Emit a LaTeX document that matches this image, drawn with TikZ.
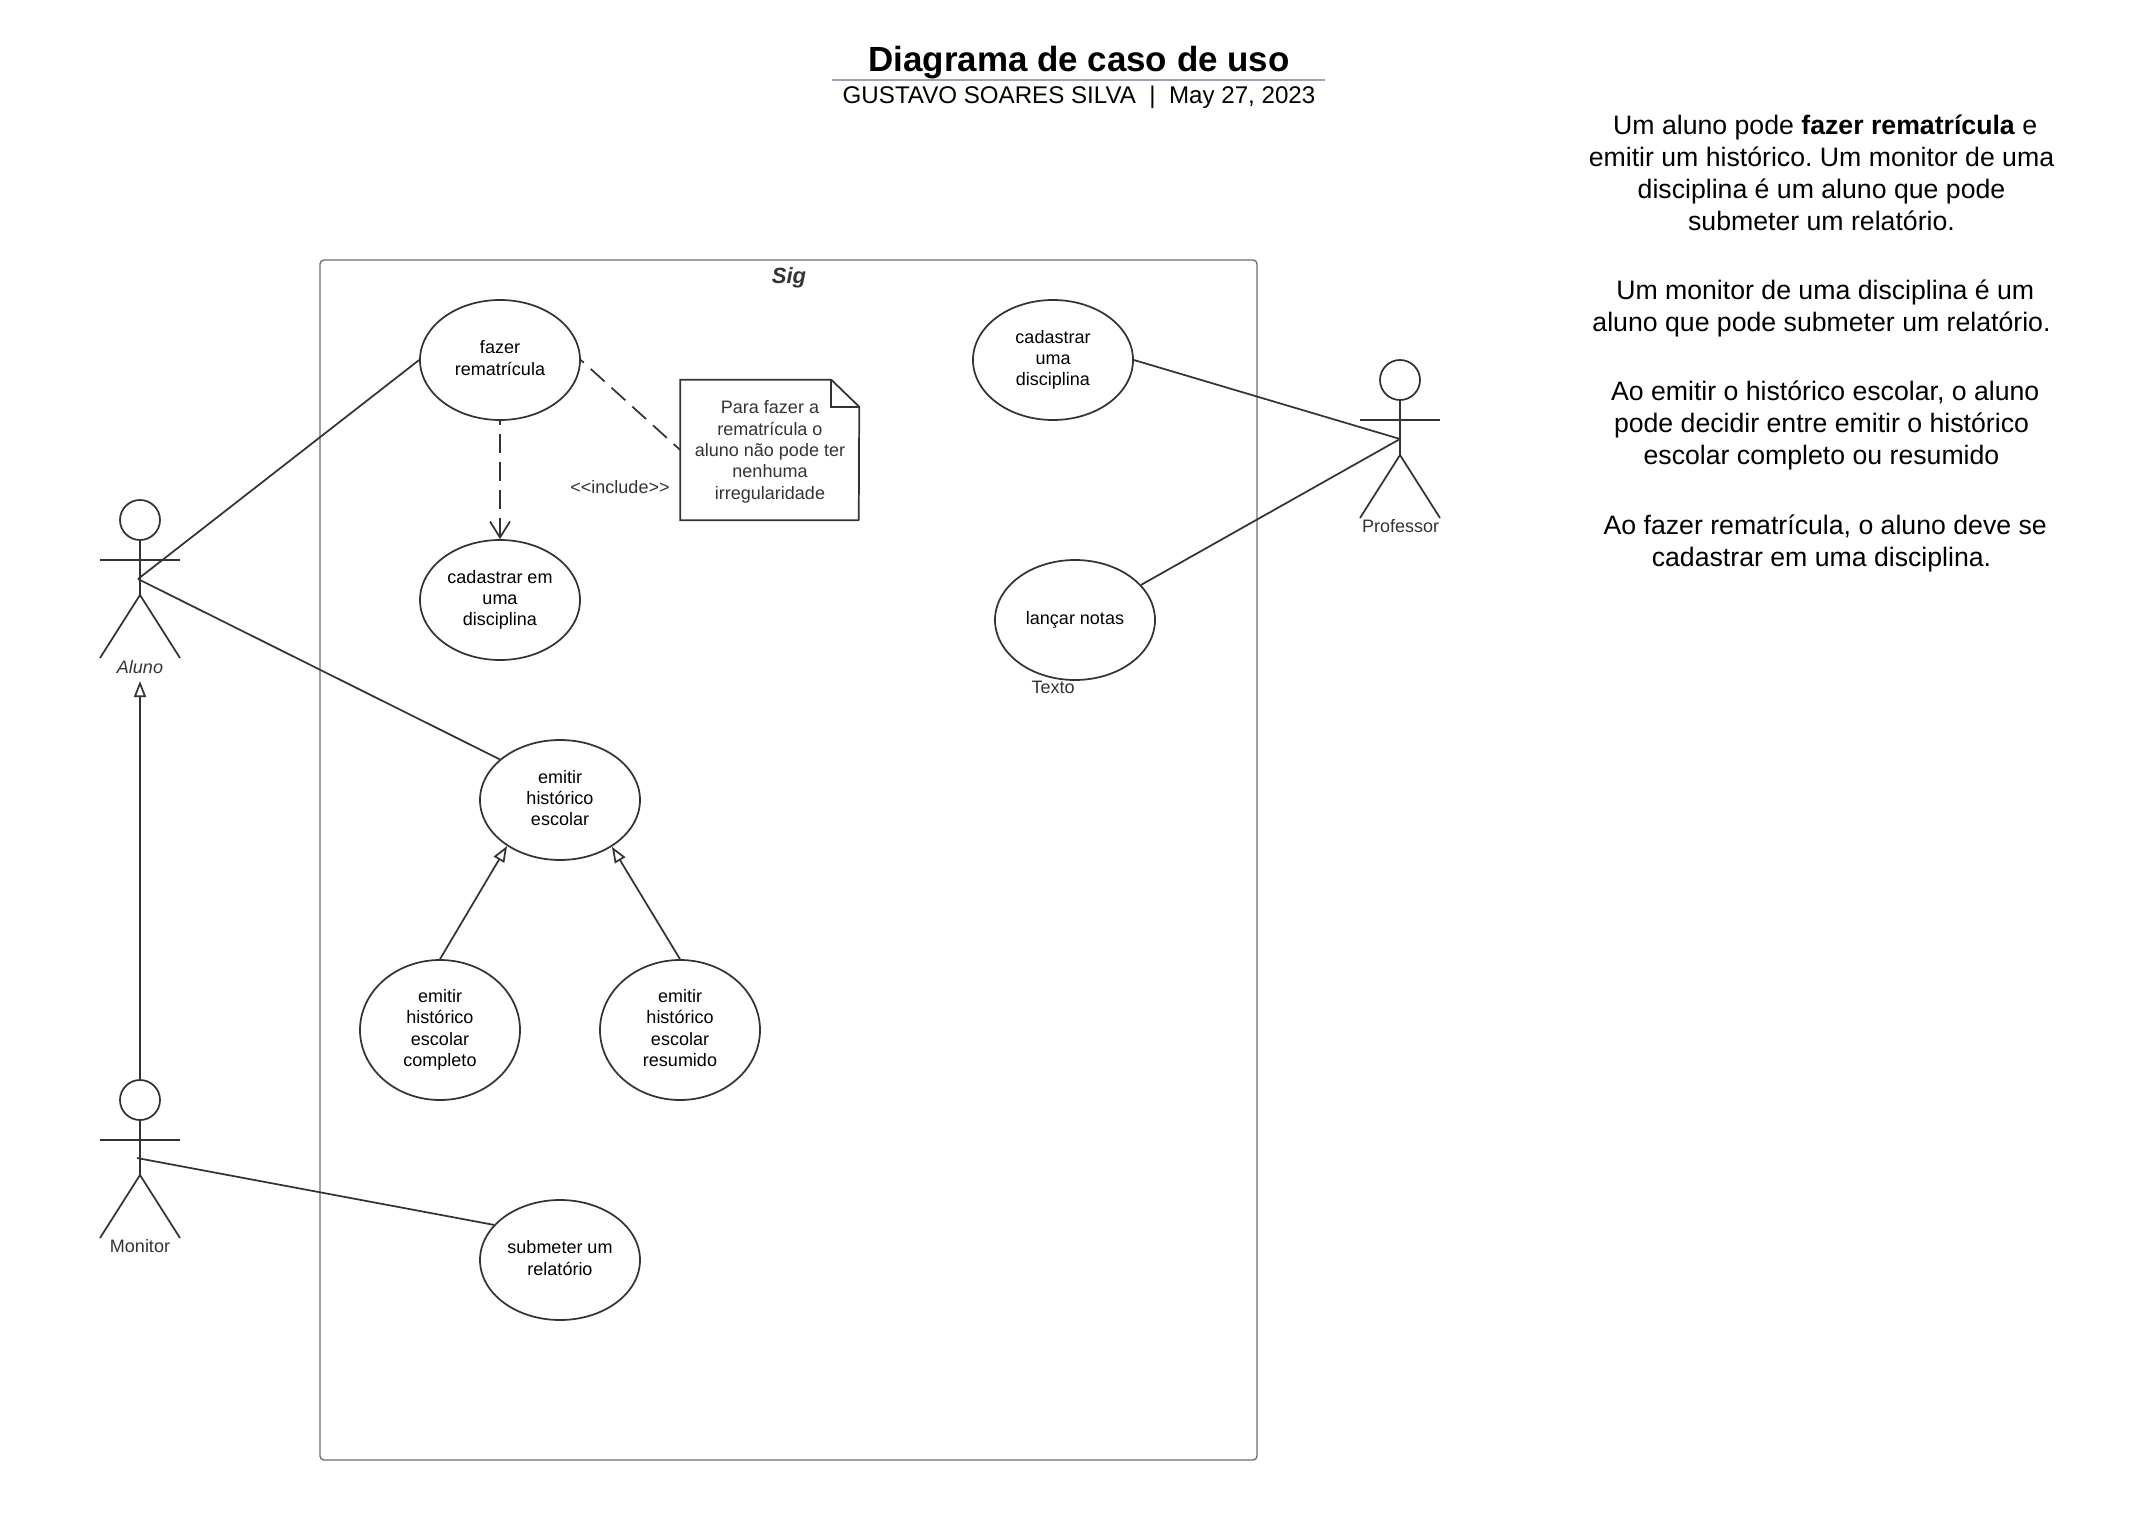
\documentclass[tikz,border=0pt]{standalone}
\usepackage{fontspec}
\setmainfont{Liberation Sans}
\usetikzlibrary{shapes.geometric,arrows.meta}
\definecolor{traco}{HTML}{333333}
\definecolor{borda}{HTML}{6E6E6E}
\definecolor{regua}{HTML}{9AA3AE}
\frenchspacing
\begin{document}
\begin{tikzpicture}[
x=0.75pt, y=-0.75pt,
every node/.style={font=\fontsize{13.5}{16}\selectfont, align=center, inner sep=0pt},
usecase/.style={draw=traco, line width=1.3pt, ellipse, minimum width=120pt, minimum height=90pt, text depth=3pt},
usecasealto/.style={usecase, minimum height=105pt},
rotulo/.style={text=traco},
linha/.style={draw=traco, line width=1.3pt},
tracejada/.style={linha, dash pattern=on 14pt off 7pt, dash phase=11pt},
heranca/.style={linha, -{Triangle[open, length=12pt, width=9pt]}},
inclui/.style={tracejada, -{Straight Barb[length=12pt, width=15pt]}},
texto/.style={font=\fontsize{20}{24}\selectfont}
]

\useasboundingbox (0,0) rectangle (2142,1526);

\path
(788.5,860) node[draw=borda, line width=1pt, rectangle, rounded corners=3pt, minimum width=702.75pt, minimum height=900pt] (sistema) {}
(789,278) node[rotulo, font=\fontsize{16.5}{20}\selectfont\bfseries\itshape] (sig) {Sig}

(1079,63) node[font=\fontsize{26.2}{30}\selectfont\bfseries] (titulo) {Diagrama de caso de uso}
(1079,97) node[font=\fontsize{18.1}{22}\selectfont] (autor) {GUSTAVO SOARES SILVA\ \ |\ \ May 27, 2023}
(832,80) coordinate (reguaesq)
(1325,80) coordinate (reguadir)

(500,360) node[usecase] (fazer) {fazer\\rematrícula}
(500,600) node[usecase] (cadastrar) {cadastrar em\\uma\\disciplina}
(1053,360) node[usecase] (cadastraruma) {cadastrar\\uma\\disciplina}
(1075,620) node[usecase] (lancar) {lançar notas}
(560,800) node[usecase] (emitir) {emitir\\histórico\\escolar}
(440,1030) node[usecasealto] (completo) {emitir\\histórico\\escolar\\completo}
(680,1030) node[usecasealto] (resumido) {emitir\\histórico\\escolar\\resumido}
(560,1260) node[usecase] (submeter) {submeter um\\relatório}

(1053,687) node[rotulo] (textolivre) {Texto}
(620,487) node[rotulo] (include) {<{}<include>{}>}
(769.5,450) node[minimum width=133.5pt, minimum height=105pt] (nota) {}
(770,452) node[rotulo] (notatexto) {Para fazer a\\rematrícula o\\aluno não pode ter\\nenhuma\\irregularidade}

(1821.5,173) node[texto] (p1) {\ Um aluno pode \textbf{fazer rematrícula} e\\emitir um histórico. Um monitor de uma\\disciplina é um aluno que pode\\submeter um relatório.}
(1821.5,308) node[texto] (p2) {\ Um monitor de uma disciplina é um\\aluno que pode submeter um relatório.}
(1821.5,425.5) node[texto] (p3) {\ Ao emitir o histórico escolar, o aluno\\pode decidir entre emitir o histórico\\escolar completo ou resumido}
(1821.5,543) node[texto] (p4) {\ Ao fazer rematrícula, o aluno deve se\\cadastrar em uma disciplina.}
;

\draw[regua, line width=1pt] (reguaesq) -- (reguadir);

\draw[linha] (nota.south east) -- (nota.south west) -- (nota.north west) -- ++(151,0) coordinate (dobra) -- ++(28,27) coordinate (canto) -- (nota.south east);
\draw[linha] (dobra) -- ++(0,27) -- (canto);

\foreach \nome/\x/\y in {aluno/140/520, monitor/140/1100, professor/1400/380}{
    \node[draw=traco, line width=1.3pt, circle, minimum size=30pt] (\nome-cabeca) at (\x,\y) {};
    \draw[linha] (\nome-cabeca.south) -- (\x,\y+75);
    \draw[linha] (\x-40,\y+40) -- (\x+40,\y+40);
    \draw[linha] (\x-40,\y+138) -- (\x,\y+75) -- (\x+40,\y+138);
}

\node[rotulo, font=\fontsize{13.5}{16}\selectfont\itshape] (alunonome) at (140,667) {Aluno};
\node[rotulo] (monitornome) at (140,1246) {Monitor};
\node[rotulo] (professornome) at (1400.5,526.5) {Professor};

\coordinate (alunoponto) at (138,579);
\coordinate (monitorponto) at (137,1158);
\coordinate (professorponto) at (1400,439);
\coordinate (alunopes) at (140,681);

\draw[linha] (alunoponto) -- (fazer.west);
\draw[linha] (alunoponto) -- (emitir.146);
\draw[linha] (monitorponto) -- (submeter.152);
\draw[linha] (professorponto) -- (cadastraruma.east);
\draw[linha] (professorponto) -- (lancar.28);

\draw[heranca] (monitor-cabeca.north) -- (alunopes);
\draw[heranca] (completo.north) -- (emitir.-139);
\draw[heranca] (resumido.north) -- (emitir.-42);

\draw[inclui] (fazer.south) -- (cadastrar.north);
\draw[tracejada] (fazer.east) -- (nota.west);

\end{tikzpicture}
\end{document}
